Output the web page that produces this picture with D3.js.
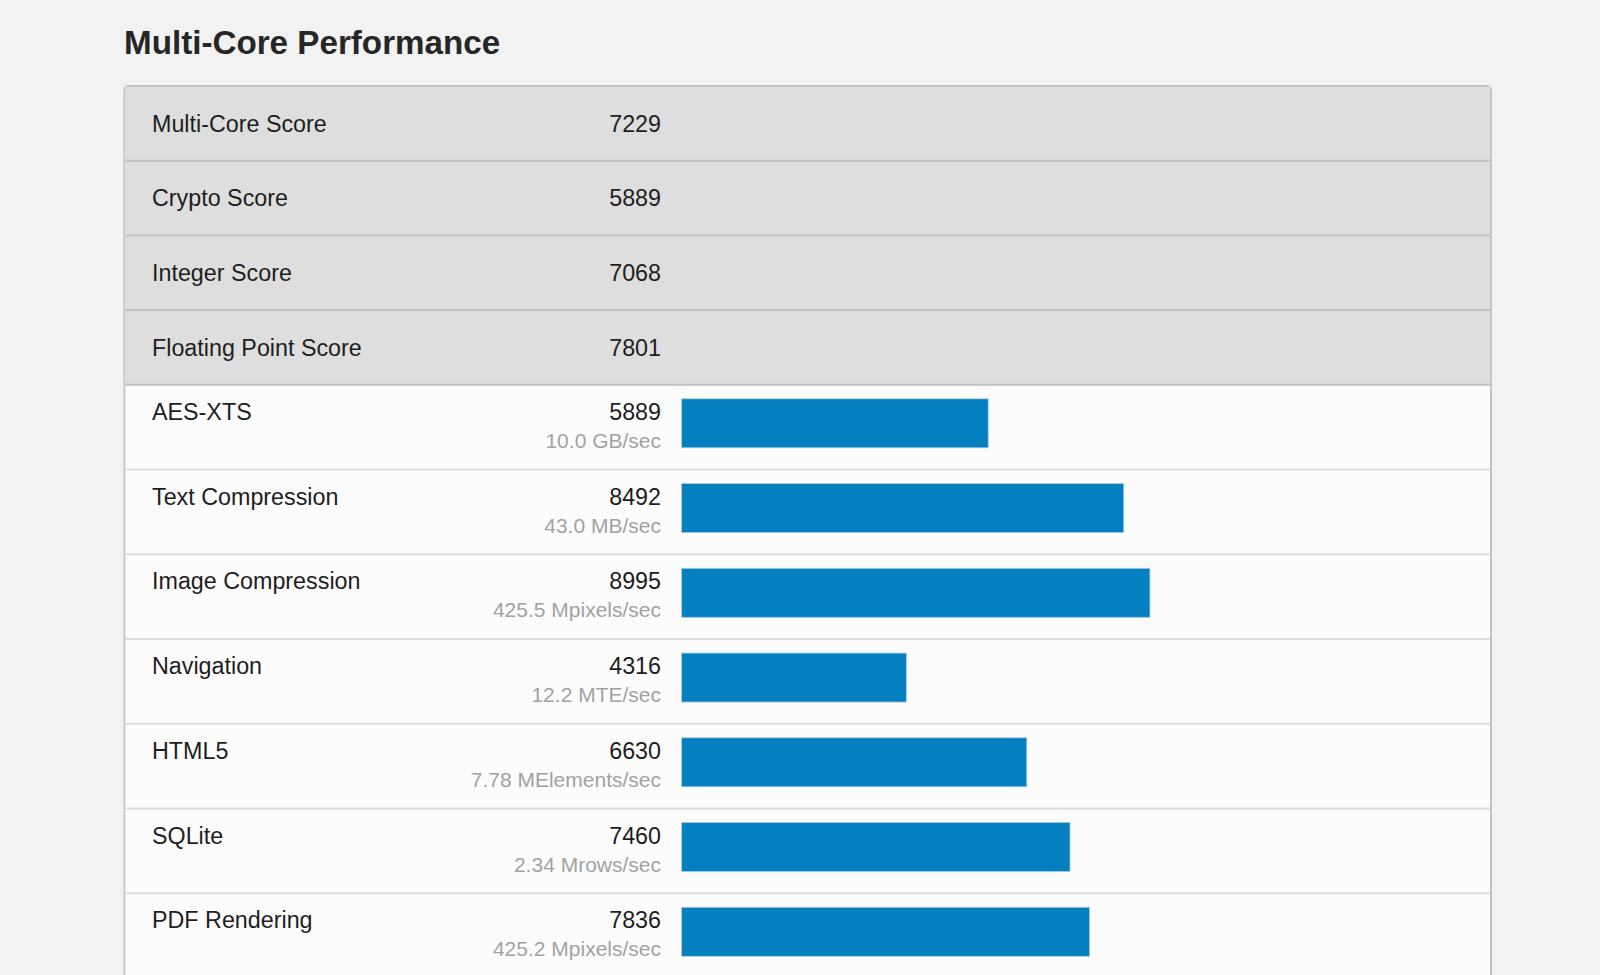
<!DOCTYPE html>
<html>
<head>
<meta charset="utf-8">
<script src="https://cdn.jsdelivr.net/npm/d3@7"></script>
<style>
  html, body { margin: 0; padding: 0; background: #f2f2f2; }
  svg { display: block; font-family: "Liberation Sans", Arial, sans-serif; }
</style>
</head>
<body>
<svg id="chart" width="1600" height="975"></svg>
<script>
const title = "Multi-Core Performance";
const summaryNames = ["Multi-Core Score", "Crypto Score", "Integer Score", "Floating Point Score"];
const summaryScores = [7229, 5889, 7068, 7801];
const benchNames = ["AES-XTS", "Text Compression", "Image Compression", "Navigation", "HTML5", "SQLite", "PDF Rendering"];
const benchScores = [5889, 8492, 8995, 4316, 6630, 7460, 7836];
const benchUnits = ["10.0 GB/sec", "43.0 MB/sec", "425.5 Mpixels/sec", "12.2 MTE/sec", "7.78 MElements/sec", "2.34 Mrows/sec", "425.2 Mpixels/sec"];
const scoreMax = 15000;

const svg = d3.select("#chart");
const W = 1600, H = 975;

const panelX = 124.5, panelW = 1491 - 124.5, panelTop = 86;
const headH = 74.7, benchH = 84.75;
const nameX = 152, valueX = 661, barX0 = 681.6;

const x = d3.scaleLinear().domain([0, scoreMax]).range([barX0, barX0 + 781]);

svg.append("rect").attr("width", W).attr("height", H).attr("fill", "#f2f2f2");

svg.append("text")
  .attr("x", 124).attr("y", 54)
  .attr("font-size", 33.2).attr("font-weight", "bold")
  .attr("fill", "#262626")
  .text(title);

const rows = [];
let y = panelTop;
summaryNames.forEach((n, i) => { rows.push({type: "sum", name: n, score: summaryScores[i], y0: y, h: headH}); y += headH; });
benchNames.forEach((n, i) => { rows.push({type: "bench", name: n, score: benchScores[i], unit: benchUnits[i], y0: y, h: benchH}); y += benchH; });

// panel
svg.append("rect")
  .attr("x", panelX).attr("y", panelTop)
  .attr("width", panelW).attr("height", y - panelTop + 20)
  .attr("rx", 4)
  .attr("fill", "#fcfcfc")
  .attr("stroke", "#c4c4c4").attr("stroke-width", 2);

const g = svg.append("g");

// row backgrounds
g.selectAll("rect.bg").data(rows).join("rect")
  .attr("class", "bg")
  .attr("x", panelX + 1).attr("y", d => d.y0 + (d === rows[0] ? 1 : 0))
  .attr("width", panelW - 2).attr("height", d => d.h - (d === rows[0] ? 1 : 0))
  .attr("fill", d => d.type === "sum" ? "#dedede" : "#fcfcfc");

// separators
g.selectAll("line.sep").data(rows.slice(1)).join("line")
  .attr("class", "sep")
  .attr("x1", panelX + 1).attr("x2", panelX + panelW - 1)
  .attr("y1", d => d.y0).attr("y2", d => d.y0)
  .attr("stroke", (d, i) => (rows[i].type === "sum") ? "#c2c2c2" : "#dcdcdc")
  .attr("stroke-width", 2);

// summary rows text
const sums = rows.filter(d => d.type === "sum");
g.selectAll("text.sname").data(sums).join("text")
  .attr("x", nameX).attr("y", d => d.y0 + d.h / 2 + 8.3)
  .attr("font-size", 23.3).attr("fill", "#1e1e1e")
  .text(d => d.name);
g.selectAll("text.sval").data(sums).join("text")
  .attr("x", valueX).attr("y", d => d.y0 + d.h / 2 + 8.3)
  .attr("text-anchor", "end")
  .attr("font-size", 23.3).attr("fill", "#1e1e1e")
  .text(d => d.score);

// bench rows
const benches = rows.filter(d => d.type === "bench");
g.selectAll("text.bname").data(benches).join("text")
  .attr("x", nameX).attr("y", d => d.y0 + 35)
  .attr("font-size", 23.3).attr("fill", "#1e1e1e")
  .text(d => d.name);
g.selectAll("text.bval").data(benches).join("text")
  .attr("x", valueX).attr("y", d => d.y0 + 35)
  .attr("text-anchor", "end")
  .attr("font-size", 23.3).attr("fill", "#1e1e1e")
  .text(d => d.score);
g.selectAll("text.bunit").data(benches).join("text")
  .attr("x", valueX).attr("y", d => d.y0 + 63)
  .attr("text-anchor", "end")
  .attr("font-size", 21).attr("fill", "#a2a2a2")
  .text(d => d.unit);
g.selectAll("rect.bar").data(benches).join("rect")
  .attr("x", x(0)).attr("y", d => d.y0 + 14)
  .attr("width", d => x(d.score) - x(0)).attr("height", 49)
  .attr("fill", "#047fc0")
  .attr("stroke", "#a9cde6").attr("stroke-width", 0.8);
</script>
</body>
</html>
